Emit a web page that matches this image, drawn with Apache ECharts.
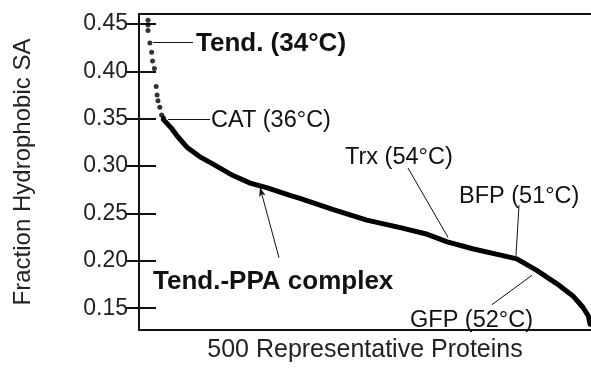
<!DOCTYPE html>
<html><head><meta charset="utf-8">
<script src="https://cdn.jsdelivr.net/npm/echarts@6/dist/echarts.min.js"></script>
<style>html,body{margin:0;padding:0;background:#fff}#c{width:591px;height:368px}</style>
</head><body><div id="c"></div>
<script>
// Sparse top dots (rank, fraction)
const dotRanks  = [10, 10, 10, 12, 14, 15, 17, 19, 20, 21, 23, 25, 27];
const dotValues = [0.454, 0.449, 0.443, 0.430, 0.420, 0.411, 0.403, 0.384, 0.375, 0.369, 0.362, 0.354, 0.351];
// Dense continuous part of the ranked curve
const curveRanks  = [27, 36, 42, 53, 67, 82, 104, 123, 142, 167, 178, 215, 252, 289, 319, 341, 370, 400, 418, 440, 462, 480, 491, 497, 499];
const curveValues = [0.349, 0.340, 0.332, 0.320, 0.310, 0.302, 0.290, 0.282, 0.277, 0.269, 0.266, 0.254, 0.243, 0.235, 0.228, 0.220, 0.2125, 0.206, 0.202, 0.190, 0.176, 0.163, 0.151, 0.142, 0.133];
const yTickValues = [0.15, 0.20, 0.25, 0.30, 0.35, 0.40, 0.45];
const yTickLabels = ['0.15', '0.20', '0.25', '0.30', '0.35', '0.40', '0.45'];
// Annotation labels and leader lines (data coords)
const annoTexts = ['Tend. (34°C)', 'CAT (36°C)', 'Trx (54°C)', 'BFP (51°C)', 'GFP (52°C)', 'Tend.-PPA complex'];
const annoBold  = [true, false, false, false, false, true];
const leaderFrom = [[15.5, 0.4306], [32.1, 0.3493], [297.6, 0.2979], [420.4, 0.2588], [434.7, 0.1847], [133.9, 0.2773]];
const leaderTo   = [[59.7, 0.4306], [78.5, 0.3493], [341.8, 0.2248], [417.0, 0.2052], [390.5, 0.1538], [154.9, 0.2032]];

const chart = echarts.init(document.getElementById('c'), null, {renderer: 'canvas'});
const FONT = '"Liberation Sans", Arial, Helvetica, sans-serif';
const annoPos = [[196, 44], [211, 121], [345, 158], [459, 197], [410, 321], [153, 282]];

const leaderData = leaderFrom.map((f, i) => {
  const a = {coord: f};
  const b = {coord: leaderTo[i]};
  if (i === 5) { a.symbol = 'arrow'; a.symbolSize = [5, 9]; }
  return [a, b];
});

chart.setOption({
  animation: false,
  backgroundColor: '#fff',
  grid: {left: 139, right: 0, top: 14, bottom: 30, containLabel: false},
  xAxis: [{
    type: 'value', min: 0, max: 500, position: 'bottom',
    name: '500 Representative Proteins', nameLocation: 'middle', nameGap: 8,
    nameTextStyle: {fontFamily: FONT, fontSize: 25, color: '#222', verticalAlign: 'top'},
    axisLine: {show: true, lineStyle: {color: '#111', width: 2}},
    axisTick: {show: false}, axisLabel: {show: false}, splitLine: {show: false}
  }, {
    type: 'value', min: 0, max: 500, position: 'top',
    axisLine: {show: true, lineStyle: {color: '#111', width: 2}},
    axisTick: {show: false}, axisLabel: {show: false}, splitLine: {show: false}
  }],
  yAxis: [{
    type: 'value', min: 0.127, max: 0.4605, position: 'left',
    name: 'Fraction Hydrophobic SA', nameLocation: 'middle', nameGap: 104, nameRotate: 90,
    nameTextStyle: {fontFamily: FONT, fontSize: 24, color: '#222'},
    axisLine: {show: true, lineStyle: {color: '#111', width: 2}},
    axisTick: {show: true, inside: true, length: 17, lineStyle: {color: '#111', width: 2}, customValues: yTickValues},
    axisLabel: {show: true, margin: 11, fontFamily: FONT, fontSize: 23, color: '#222',
      customValues: yTickValues, formatter: v => yTickLabels[yTickValues.findIndex(t => Math.abs(t - v) < 1e-6)]},
    splitLine: {show: false}
  }, {
    type: 'value', min: 0.127, max: 0.4605, position: 'right',
    axisLine: {show: false},
    axisTick: {show: true, inside: true, length: 13, lineStyle: {color: '#111', width: 2}, customValues: yTickValues},
    axisLabel: {show: false}, splitLine: {show: false}
  }],
  series: [{
    type: 'scatter', xAxisIndex: 0, yAxisIndex: 0,
    data: dotRanks.map((r, i) => [r, dotValues[i]]),
    symbolSize: 5, itemStyle: {color: '#000'}, silent: true
  }, {
    type: 'line', xAxisIndex: 0, yAxisIndex: 0,
    data: curveRanks.map((r, i) => [r, curveValues[i]]),
    showSymbol: false, smooth: false,
    lineStyle: {color: '#000', width: 5, cap: 'round', join: 'round'},
    markLine: {
      silent: true, symbol: 'none', label: {show: false},
      lineStyle: {color: '#111', width: 1, type: 'solid'},
      emphasis: {disabled: true},
      data: leaderData
    }
  }],
  graphic: annoTexts.map((t, i) => ({
    type: 'text', x: annoPos[i][0], y: annoPos[i][1], silent: true,
    style: {text: t, fill: '#111', textVerticalAlign: 'middle', textAlign: 'left',
      font: (annoBold[i] ? 'bold 26px ' : '23.5px ') + FONT}
  }))
});
</script></body></html>
